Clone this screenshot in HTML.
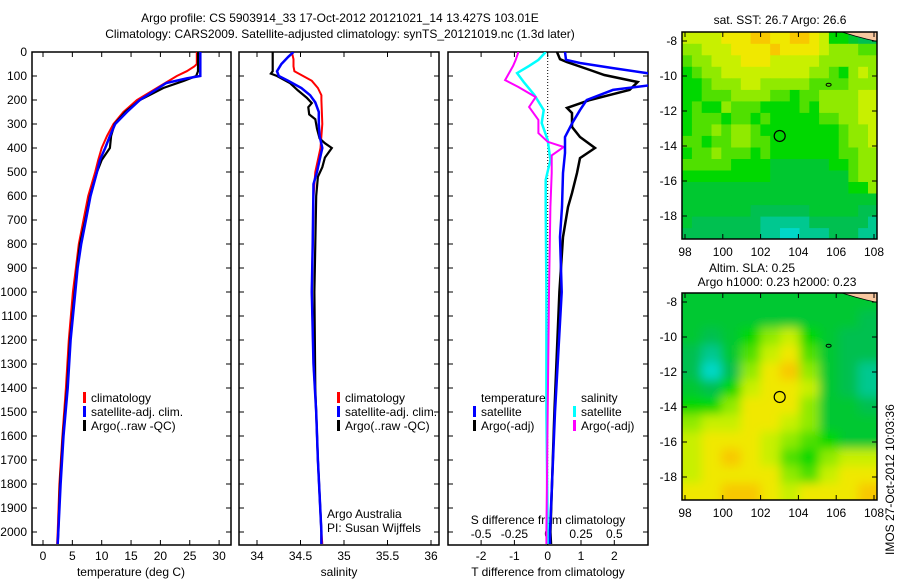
<!DOCTYPE html>
<html><head><meta charset="utf-8"><style>
html,body{margin:0;padding:0;background:#fff;}
svg{display:block;font-family:"Liberation Sans",sans-serif;font-size:12px;}
</style></head><body>
<svg id="c" width="900" height="580" viewBox="0 0 900 580">
<defs>
<filter id="bl" x="0" y="0" width="1" height="1"><feGaussianBlur stdDeviation="5"/></filter>
<clipPath id="cp1"><rect x="32" y="52" width="199" height="493"/></clipPath>
<clipPath id="cp2"><rect x="239" y="52" width="200" height="493"/></clipPath>
<clipPath id="cp3"><rect x="448" y="52" width="200" height="493"/></clipPath>
<clipPath id="cm1"><rect x="682" y="32" width="195" height="207"/></clipPath>
<clipPath id="cm2"><rect x="682" y="293" width="195" height="207"/></clipPath>
</defs>
<text x="340" y="22" text-anchor="middle">Argo profile: CS 5903914_33 17-Oct-2012 20121021_14 13.427S 103.01E</text>
<text x="340" y="38" text-anchor="middle">Climatology: CARS2009. Satellite-adjusted climatology: synTS_20121019.nc (1.3d later)</text>
<g id="g"></g>
<text transform="translate(894,555) rotate(-90)" font-size="12">IMOS 27-Oct-2012 10:03:36</text>
</svg>
<script>
// ---- data ----
const tempArgoD=[0,80,100,120,150,200,250,300,350,400,450,500,600,700,800,900,1000,1200,1400,1600,1800,2000,2050];
const tempArgo=[26.4,26.4,26.1,24.0,20.5,16.5,14.0,12.2,11.6,11.4,10.0,9.2,8.0,7.2,6.3,5.8,5.4,4.6,4.1,3.4,2.9,2.6,2.5];
const tempSatD=[0,100,110,129,200,250,300,350,400,450,500,600,700,800,900,1000,1200,1400,1600,1800,2000,2050];
const tempSat=[26.8,26.8,24.5,21.0,16.5,14.3,12.3,11.4,10.6,9.7,9.2,8.1,7.3,6.5,5.9,5.5,4.7,4.2,3.5,3.0,2.6,2.5];
const tempClimD=[0,50,60,80,100,150,200,250,300,350,400,450,500,600,700,800,900,1000,1200,1400,1600,1800,2000,2050];
const tempClim=[26.2,26.2,25.8,24.5,22.8,19.4,16.0,13.7,12.0,10.9,10.0,9.4,8.9,7.7,6.9,6.1,5.6,5.1,4.4,3.9,3.3,2.8,2.5,2.4];
const salArgoD=[0,80,90,100,130,160,190,213,230,260,280,320,360,380,400,440,480,520,600,800,1000,1400,1700,2000,2050];
const salArgo=[34.18,34.18,34.16,34.23,34.38,34.47,34.57,34.63,34.59,34.60,34.67,34.69,34.72,34.78,34.86,34.78,34.75,34.70,34.68,34.67,34.66,34.67,34.70,34.74,34.74];
const salSatD=[0,20,50,80,100,120,150,180,210,250,300,350,400,450,500,550,800,1000,1300,1500,1700,2000,2050];
const salSat=[34.42,34.36,34.28,34.23,34.25,34.36,34.51,34.61,34.67,34.71,34.71,34.72,34.75,34.72,34.69,34.65,34.64,34.63,34.65,34.68,34.70,34.74,34.74];
const salClimD=[0,30,60,80,100,120,150,180,200,300,400,500,600,800,1000,1300,1500,1700,2000,2050];
const salClim=[34.40,34.42,34.42,34.43,34.53,34.63,34.70,34.74,34.74,34.75,34.73,34.67,34.65,34.64,34.63,34.65,34.68,34.70,34.74,34.75];
const dTSatD=[0,33,46,67,88,105,138,158,200,242,296,354,421,504,646,771,1000,1500,2000,2050];
const dTSat=[0.52,0.55,0.97,1.96,2.98,3.6,3.1,1.96,1.17,0.97,0.74,0.52,0.52,0.46,0.43,0.37,0.42,0.22,0.07,0.07];
const dTArgoD=[0,30,42,75,96,125,158,200,233,254,312,354,400,442,504,588,646,771,1000,1500,2000,2050];
const dTArgo=[0.28,0.37,0.58,1.27,1.7,2.7,2.46,1.27,0.58,0.73,0.73,0.97,1.42,0.97,0.88,0.73,0.61,0.46,0.35,0.2,0.08,0.1];
const dSSatD=[0,33,58,88,125,179,242,296,367,450,533,646,1000,1500,2000,2050];
const dSSat=[-0.015,-0.07,-0.14,-0.23,-0.18,-0.1,-0.03,-0.045,0,0.02,-0.015,-0.015,-0.01,-0.01,0.0,0.0];
const dSArgoD=[0,33,58,117,146,188,229,283,338,374,396,431,504,646,1000,1500,2000,2050];
const dSArgo=[-0.22,-0.24,-0.26,-0.32,-0.22,-0.09,-0.14,-0.07,-0.07,0.0,0.12,0.03,0.03,0.02,0.01,0.0,-0.01,-0.01];
const depthTicks=[0,100,200,300,400,500,600,700,800,900,1000,1100,1200,1300,1400,1500,1600,1700,1800,1900,2000];
const tempTicks=[0,5,10,15,20,25,30];
const salTicks=[34,34.5,35,35.5,36];
const salTickLabels=["34","34.5","35","35.5","36"];
const dTTicks=[-2,-1,0,1,2];
const dSTicks=[-0.5,-0.25,0,0.25,0.5];
const dSTickLabels=["-0.5","-0.25","0","0.25","0.5"];
const lonTicks=[98,100,102,104,106,108];
const latTicks=[-8,-10,-12,-14,-16,-18];
const latTickLabels=["-8","-10","-12","-14","-16","-18"];
const sstGrid=[
"77778889988998744322","66777888898888766655","56677788877777666666","45667777777776654676",
"44566677666665555666","44555666655455666677","45446555444454666677","45554554544444556677",
"45565665444444445667","55455665544444445667","45565554544444445566","55555444433333344566",
"44444444433333333566","33333333333333333446","33333333333333333333","33333332222223333322",
"32222222111112222221","22222222110011122211"];
const slaGrid=[
"3333333333","3333333332","3234674322","2135785322","2026896321","3247887321",
"4468886332","6778876333","7888765433","7898754677","7888865788","8899878889"];
const argoLon=[103.01], argoLat=[-13.427];

// ---- scales ----
const Y=d=>52+0.24*d;
const xT=t=>43+5.87*t;
const xS=s=>257+87*(s-34);
const xD=t=>547.7+33.3*t;
const xDS=s=>547.7+133.2*s;
const xLon=l=>685+(l-98)*18.9;
const yLat1=l=>41+(-8-l)*17.5;
const yLat2=l=>302+(-8-l)*17.5;

const NS="http://www.w3.org/2000/svg";
const G=document.getElementById('g');
function mk(tag,at,parent){const e=document.createElementNS(NS,tag);for(const k in at)e.setAttribute(k,at[k]);(parent||G).appendChild(e);return e;}
function txt(x,y,s,anchor,parent){const e=mk('text',{x:x,y:y,'text-anchor':anchor||'start'},parent);e.textContent=s;return e;}

function line(xs,ds,fx,color,w,clip,name){
  const pts=xs.map((v,i)=>fx(v).toFixed(1)+','+Y(ds[i]).toFixed(1)).join(' ');
  const p=mk('polyline',{points:pts,fill:'none',stroke:color,'stroke-width':w,'clip-path':'url(#'+clip+')'});
  
  
}
function frame(x0,x1,name){
  const r=mk('rect',{x:x0,y:52,width:x1-x0,height:493,fill:'none',stroke:'#000','stroke-width':1.5});
  
  
  depthTicks.forEach(d=>{mk('line',{x1:x0,x2:x0+5,y1:Y(d),y2:Y(d),stroke:'#000'});mk('line',{x1:x1-5,x2:x1,y1:Y(d),y2:Y(d),stroke:'#000'});});
}
depthTicks.forEach(d=>{const t=txt(27,Y(d)+4,String(d),'end');});

// panel 1
frame(32,231,'temperature-panel');
tempTicks.forEach(v=>{mk('line',{x1:xT(v),x2:xT(v),y1:545,y2:540,stroke:'#000'});mk('line',{x1:xT(v),x2:xT(v),y1:52,y2:57,stroke:'#000'});const t=txt(xT(v),560,String(v),'middle');});
{const t=txt(131,576,'temperature (deg C)','middle');}
line(tempClim,tempClimD,xT,'#f00',2,'cp1','temperature-climatology-line');
line(tempArgo,tempArgoD,xT,'#000',2.2,'cp1','temperature-argo-line');
line(tempSat,tempSatD,xT,'#00f',2.5,'cp1','temperature-satellite-line');

// panel 2
frame(239,439,'salinity-panel');
salTicks.forEach((v,i)=>{mk('line',{x1:xS(v),x2:xS(v),y1:545,y2:540,stroke:'#000'});mk('line',{x1:xS(v),x2:xS(v),y1:52,y2:57,stroke:'#000'});const t=txt(xS(v),560,salTickLabels[i],'middle');});
{const t=txt(339,576,'salinity','middle');}
line(salClim,salClimD,xS,'#f00',2,'cp2','salinity-climatology-line');
line(salArgo,salArgoD,xS,'#000',2.2,'cp2','salinity-argo-line');
line(salSat,salSatD,xS,'#00f',2.5,'cp2','salinity-satellite-line');
{const t=txt(327,518,'Argo Australia');
 const u=txt(327,532,'PI: Susan Wijffels');}

// panel 3
frame(448,648,'difference-panel');
mk('line',{x1:xD(0),x2:xD(0),y1:52,y2:545,stroke:'#000','stroke-dasharray':'1,2'});
dTTicks.forEach(v=>{mk('line',{x1:xD(v),x2:xD(v),y1:545,y2:540,stroke:'#000'});mk('line',{x1:xD(v),x2:xD(v),y1:52,y2:57,stroke:'#000'});const t=txt(xD(v),560,String(v),'middle');});
dSTicks.forEach((v,i)=>{const t=txt(xDS(v),538,dSTickLabels[i],'middle');});
{const t=txt(548,524,'S difference from climatology','middle');
 const u=txt(548,576,'T difference from climatology','middle');}
line(dSSat,dSSatD,xDS,'#0ff',2.5,'cp3','s-diff-satellite-line');
line(dSArgo,dSArgoD,xDS,'#f0f',2,'cp3','s-diff-argo-line');
line(dTArgo,dTArgoD,xD,'#000',2.5,'cp3','t-diff-argo-line');
line(dTSat,dTSatD,xD,'#00f',2.5,'cp3','t-diff-satellite-line');

// legends
function legItem(x,y,color,label,name){
  const gg=mk('g',{});
  
  
  if(color)mk('rect',{x:x,y:y-10,width:3,height:11,fill:color},gg);
  txt(x+8,y,label,'start',gg);
}
legItem(83,402,'#f00','climatology','legend-temp-climatology');
legItem(83,416,'#00f','satellite-adj. clim.','legend-temp-satellite');
legItem(83,430,'#000','Argo(..raw -QC)','legend-temp-argo');
legItem(337,402,'#f00','climatology','legend-sal-climatology');
legItem(337,416,'#00f','satellite-adj. clim.','legend-sal-satellite');
legItem(337,430,'#000','Argo(..raw -QC)','legend-sal-argo');
legItem(473,402,null,'temperature','legend-temperature-header');
legItem(473,416,'#00f','satellite','legend-dt-satellite');
legItem(473,430,'#000','Argo(-adj)','legend-dt-argo');
legItem(573,402,null,'salinity','legend-salinity-header');
legItem(573,416,'#0ff','satellite','legend-ds-satellite');
legItem(573,430,'#f0f','Argo(-adj)','legend-ds-argo');

// maps
const pal=['#00d8c8','#00c890','#00c050','#00c830','#00d800','#50e000','#90ea00','#c8f000','#f0e800','#f8c800'];
function map(grid,yLat,clip,top,blur,name){
  const gg=mk('g',{'clip-path':'url(#'+clip+')'});
  
  
  const inner=mk('g',blur?{filter:'url(#bl)'}:{},gg);
  const rows=grid.length, cols=grid[0].length;
  const lonMin=97.85, lonMax=108.2, latMax=-7.5, latMin=-19.35;
  const cw=(xLon(lonMax)-xLon(lonMin))/cols, rh=(yLat(latMin)-yLat(latMax))/rows;
  const pad=blur?20:0;
  for(let r=0;r<rows;r++)for(let c=0;c<cols;c++){
    let x=xLon(lonMin)+c*cw, y=yLat(latMax)+r*rh, w=cw, h=rh;
    if(c===0){x-=pad;w+=pad;} if(c===cols-1)w+=pad; if(r===0){y-=pad;h+=pad;} if(r===rows-1)h+=pad;
    const cell=mk('rect',{x:x.toFixed(1),y:y.toFixed(1),width:(w+0.5).toFixed(1),height:(h+0.5).toFixed(1),fill:pal[+grid[r][c]]},inner);
    
    
  }
  mk('path',{d:`M${xLon(106.3)},${top} L${xLon(108.3)},${top} L${xLon(108.3)},${top+10} L${xLon(107.6)},${top+7} L${xLon(107)},${top+4} Z`,fill:'#f8c8a0',stroke:'#000','stroke-width':0.8},gg);
  mk('ellipse',{cx:xLon(105.6),cy:yLat(-10.5),rx:2.5,ry:1.5,fill:'none',stroke:'#000','stroke-width':1},gg);
  const ring=mk('circle',{cx:xLon(argoLon[0]),cy:yLat(argoLat[0]),r:5.5,fill:'none',stroke:'#000','stroke-width':1.2});
  
  
  mk('rect',{x:682,y:top,width:195,height:207,fill:'none',stroke:'#000','stroke-width':1.5});
  lonTicks.forEach(l=>{mk('line',{x1:xLon(l),x2:xLon(l),y1:top+207,y2:top+202,stroke:'#000'});mk('line',{x1:xLon(l),x2:xLon(l),y1:top,y2:top+5,stroke:'#000'});
    const t=txt(xLon(l),top+224,String(l),'middle');});
  latTicks.forEach((l,i)=>{mk('line',{x1:682,x2:687,y1:yLat(l),y2:yLat(l),stroke:'#000'});mk('line',{x1:872,x2:877,y1:yLat(l),y2:yLat(l),stroke:'#000'});
    const t=txt(677,yLat(l)+4,latTickLabels[i],'end');});
}
map(sstGrid,yLat1,'cm1',32,false,'sst-map');
map(slaGrid,yLat2,'cm2',293,true,'sla-map');
{const t=txt(780,24,'sat. SST: 26.7 Argo: 26.6','middle');
 const a=txt(752,272,'Altim. SLA: 0.25','middle');
 const b=txt(777,286,'Argo h1000: 0.23 h2000: 0.23','middle');}
</script>
</body></html>
